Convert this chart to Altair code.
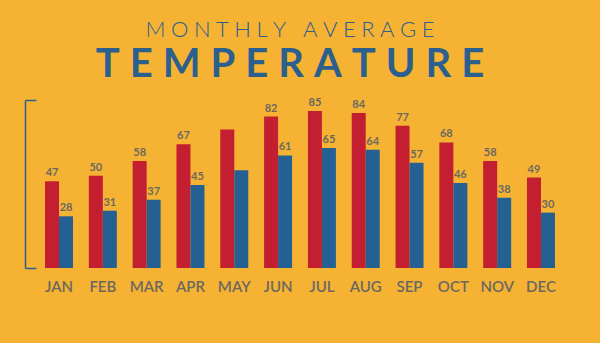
import altair as alt
import pandas as pd

months = ["JAN", "FEB", "MAR", "APR", "MAY", "JUN", "JUL", "AUG", "SEP", "OCT", "NOV", "DEC"]
high = [47, 50, 58, 67, 75, 82, 85, 84, 77, 68, 58, 49]
low = [28, 31, 37, 45, 53, 61, 65, 64, 57, 46, 38, 30]
show_label = [True, True, True, True, False, True, True, True, True, True, True, True]

BG = "#F5B233"
RED = "#C41F30"
BLUE = "#256093"
TBLUE = "#2B5F8E"
GRAY = "#6B6860"

rows = []
for m, h, l, s in zip(months, high, low, show_label):
    rows.append({"month": m, "series": "High", "value": h, "label": str(h) if s else ""})
    rows.append({"month": m, "series": "Low", "value": l, "label": str(l) if s else ""})
df = pd.DataFrame(rows)

YMAX = 91

sp = "\u2005"
def spaced(word):
    return sp.join(list(word))

title_txt = spaced("MONTHLY") + sp + " " + sp + spaced("AVERAGE")
sub_txt = spaced("TEMPERATURE")

x_enc = alt.X("month:N", sort=months,
              scale=alt.Scale(paddingInner=0.361, paddingOuter=0.457),
              axis=alt.Axis(title=None, domain=False, ticks=False, labelAngle=0,
                            labelFont="Lato", labelFontSize=15, labelFontWeight=600,
                            labelColor=GRAY, labelPadding=11))
xo_enc = alt.XOffset("series:N", sort=["High", "Low"],
                     scale=alt.Scale(paddingInner=0, paddingOuter=0))
y_enc = alt.Y("value:Q", scale=alt.Scale(domain=[0, YMAX], nice=False, zero=True),
              axis=alt.Axis(orient="right", offset=-550, values=[0, YMAX], labels=False,
                            title=None, grid=False, domainColor=TBLUE, domainWidth=1.5,
                            tickColor=TBLUE, tickWidth=1.5, tickSize=11))

bars = alt.Chart(df).mark_bar().encode(
    x=x_enc, xOffset=xo_enc, y=y_enc,
    color=alt.Color("series:N", scale=alt.Scale(domain=["High", "Low"], range=[RED, BLUE]), legend=None),
)

labels = alt.Chart(df).mark_text(baseline="bottom", dy=-3, font="Lato", fontSize=11,
                                  fontWeight="bold", color=GRAY).encode(
    x=x_enc, xOffset=xo_enc, y=alt.Y("value:Q"), text="label:N"
)

chart = alt.layer(bars, labels).properties(
    width=550, height=168,
    autosize=alt.AutoSizeParams(type="none"),
    padding={"left": 25, "top": 100, "right": 25, "bottom": 75},
    background=BG,
    title=alt.TitleParams(
        text=title_txt, subtitle=sub_txt, anchor="middle", dx=-10,
        font="Lato", fontSize=22, fontWeight=300, color=TBLUE,
        subtitleFont="Lato", subtitleFontSize=40, subtitleFontWeight="bold",
        subtitleColor=TBLUE, subtitlePadding=3, offset=11,
    ),
).configure_view(stroke=None)

chart.save("out.html", embed_options={"renderer": "svg", "actions": False})
